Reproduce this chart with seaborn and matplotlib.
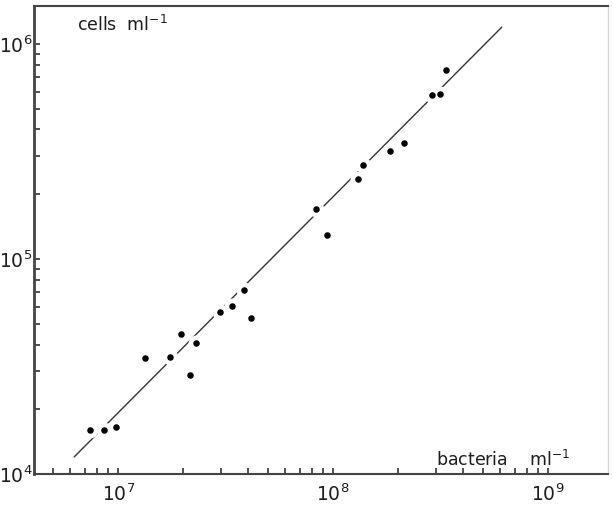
import matplotlib
matplotlib.use("Agg")
import matplotlib.pyplot as plt
import matplotlib.ticker as mticker
import numpy as np
import pandas as pd
import seaborn as sns

# bacterial abundance vs. protist abundance (both per ml)
bacteria = [7.43e6, 8.63e6, 9.82e6, 1.335e7, 1.745e7, 1.97e7, 2.16e7, 2.31e7,
            2.97e7, 3.40e7, 3.84e7, 4.14e7, 8.36e7, 9.38e7, 1.31e8, 1.37e8,
            1.84e8, 2.13e8, 2.89e8, 3.15e8, 3.34e8]
cells = [1.61e4, 1.60e4, 1.65e4, 3.47e4, 3.51e4, 4.48e4, 2.89e4, 4.08e4,
         5.69e4, 6.07e4, 7.17e4, 5.30e4, 1.71e5, 1.29e5, 2.36e5, 2.72e5,
         3.19e5, 3.47e5, 5.79e5, 5.87e5, 7.57e5]

# end points of the fitted regression line
fit_bacteria = [6.24e6, 6.09e8]
fit_cells = [1.20e4, 1.196e6]

x_label = "bacteria    ml$^{-1}$"
y_label = "cells  ml$^{-1}$"

pts = pd.DataFrame({"bacteria": bacteria, "cells": cells})
fit = pd.DataFrame({"bacteria": fit_bacteria, "cells": fit_cells})

sns.set_style("white")
plt.rcParams["font.family"] = ["DejaVu Sans"]
plt.rcParams["mathtext.fontset"] = "dejavusans"

W, H = 613, 507
fig = plt.figure(figsize=(W / 100, H / 100), dpi=100)
ax = fig.add_axes([34 / W, (H - 474) / H, (608 - 34) / W, (474 - 6) / H])

ink = "#1e1e1e"
sns.lineplot(data=fit, x="bacteria", y="cells", ax=ax, color="#333333",
             linewidth=1.0, zorder=2)
# white halo so the line breaks around nearby points
sns.scatterplot(data=pts, x="bacteria", y="cells", ax=ax, color="white",
                s=130, linewidth=0, zorder=3)
sns.scatterplot(data=pts, x="bacteria", y="cells", ax=ax, color="black",
                s=22, linewidth=0, zorder=4)

ax.set_xscale("log")
ax.set_yscale("log")
ax.set_xlim(4.06e6, 1.9e9)
ax.set_ylim(1e4, 1.5e6)

ax.xaxis.set_major_locator(mticker.LogLocator(base=10, numticks=10))
ax.yaxis.set_major_locator(mticker.LogLocator(base=10, numticks=10))
ax.xaxis.set_minor_locator(mticker.LogLocator(base=10, subs=np.arange(2, 10), numticks=20))
ax.yaxis.set_minor_locator(mticker.LogLocator(base=10, subs=np.arange(2, 10), numticks=20))
ax.xaxis.set_minor_formatter(mticker.NullFormatter())
ax.yaxis.set_minor_formatter(mticker.NullFormatter())

ax.tick_params(which="both", direction="in", length=4, width=1.2,
               color="#333333", bottom=True, left=True, top=False, right=False)
ax.tick_params(axis="x", which="major", labelsize=13.5, pad=7, labelcolor=ink)
ax.tick_params(axis="y", which="major", labelsize=13.5, pad=1, labelcolor=ink)

ax.set_xlabel("")
ax.set_ylabel("")

for side in ("left", "bottom", "top"):
    ax.spines[side].set_color("#444444")
ax.spines["left"].set_linewidth(2.0)
ax.spines["bottom"].set_linewidth(1.5)
ax.spines["top"].set_linewidth(1.5)
ax.spines["right"].set_color("#d8d8d8")
ax.spines["right"].set_linewidth(1.0)

fig.text(77 / W, 1 - 31 / H, y_label, fontsize=12.5, color=ink,
         ha="left", va="baseline")
fig.text(436 / W, 1 - 466 / H, x_label, fontsize=12.5, color=ink,
         ha="left", va="baseline")

fig.savefig("out.png", dpi=100)
